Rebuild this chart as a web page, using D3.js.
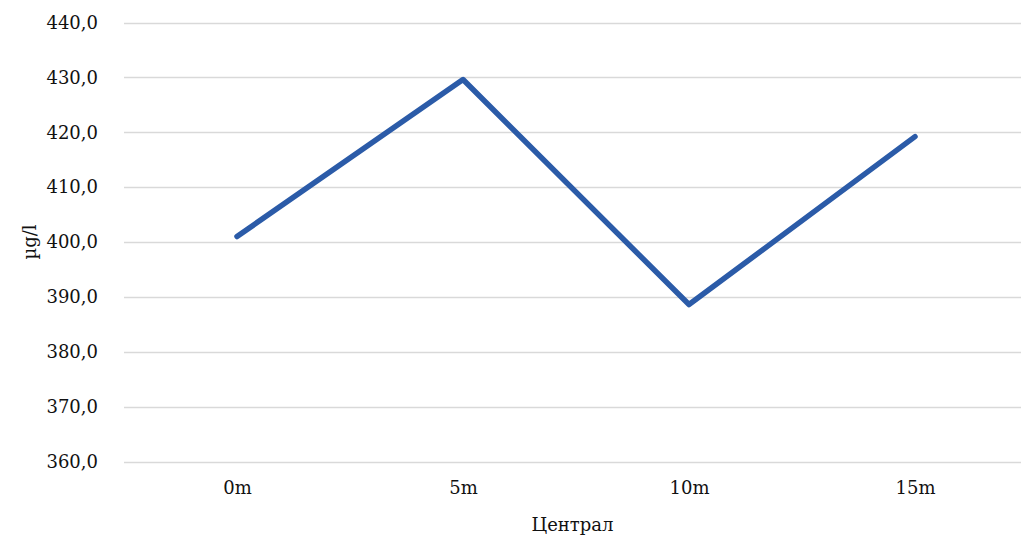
<!DOCTYPE html>
<html>
<head>
<meta charset="utf-8">
<script src="https://cdn.jsdelivr.net/npm/d3@7"></script>
<style>
  html, body { margin: 0; padding: 0; background: #fff; }
  svg { display: block; }
  text { font-family: "DejaVu Serif", serif; fill: #111; }
</style>
</head>
<body>
<svg id="chart" width="1021" height="538"></svg>
<script>
// Concentration by depth, station "Централ"
const categories = ["0m", "5m", "10m", "15m"];
const values = [401.0, 429.6, 388.6, 419.2];
const yTicks = [360, 370, 380, 390, 400, 410, 420, 430, 440];
const xTitle = "Централ";
const yTitle = "µg/l";

const svg = d3.select("#chart");
const plot = { left: 124, right: 1028, top: 22.5, bottom: 461.5 };
const fontSize = 18;

const x = d3.scalePoint()
  .domain(categories)
  .range([plot.left, plot.right])
  .padding(0.5);

const y = d3.scaleLinear()
  .domain([360, 440])
  .range([plot.bottom, plot.top]);

const fmt = v => d3.format(".1f")(v).replace(".", ",");

// horizontal gridlines
svg.append("g")
  .selectAll("line")
  .data(yTicks)
  .join("line")
  .attr("x1", plot.left)
  .attr("x2", plot.right)
  .attr("y1", d => Math.round(y(d)) + 0.5)
  .attr("y2", d => Math.round(y(d)) + 0.5)
  .attr("stroke", "#d9d9d9")
  .attr("stroke-width", 1.5);

// y axis labels
const yAxis = d3.axisLeft(y).tickValues(yTicks).tickFormat(fmt).tickSize(0).tickPadding(0);
const gy = svg.append("g").attr("transform", `translate(98,0)`).call(yAxis);
gy.select(".domain").remove();
gy.selectAll("text")
  .attr("font-family", "DejaVu Serif")
  .attr("font-size", fontSize)
  .attr("fill", "#111");

// x axis labels
const xAxis = d3.axisBottom(x).tickSize(0).tickPadding(0);
const gx = svg.append("g").attr("transform", `translate(0,481)`).call(xAxis);
gx.select(".domain").remove();
gx.selectAll("text")
  .attr("font-family", "DejaVu Serif")
  .attr("font-size", fontSize)
  .attr("fill", "#111");

// axis titles
svg.append("text")
  .attr("x", (plot.left + 1021) / 2)
  .attr("y", 531)
  .attr("text-anchor", "middle")
  .attr("font-size", fontSize)
  .text(xTitle);

svg.append("text")
  .attr("transform", `translate(36,${(plot.top + plot.bottom) / 2}) rotate(-90)`)
  .attr("text-anchor", "middle")
  .attr("font-size", fontSize)
  .text(yTitle);

// data line
const line = d3.line()
  .x((d, i) => x(categories[i]))
  .y(d => y(d));

svg.append("path")
  .datum(values)
  .attr("d", line)
  .attr("fill", "none")
  .attr("stroke", "#2b5ba8")
  .attr("stroke-width", 5.5)
  .attr("stroke-linecap", "round")
  .attr("stroke-linejoin", "round");
</script>
</body>
</html>
